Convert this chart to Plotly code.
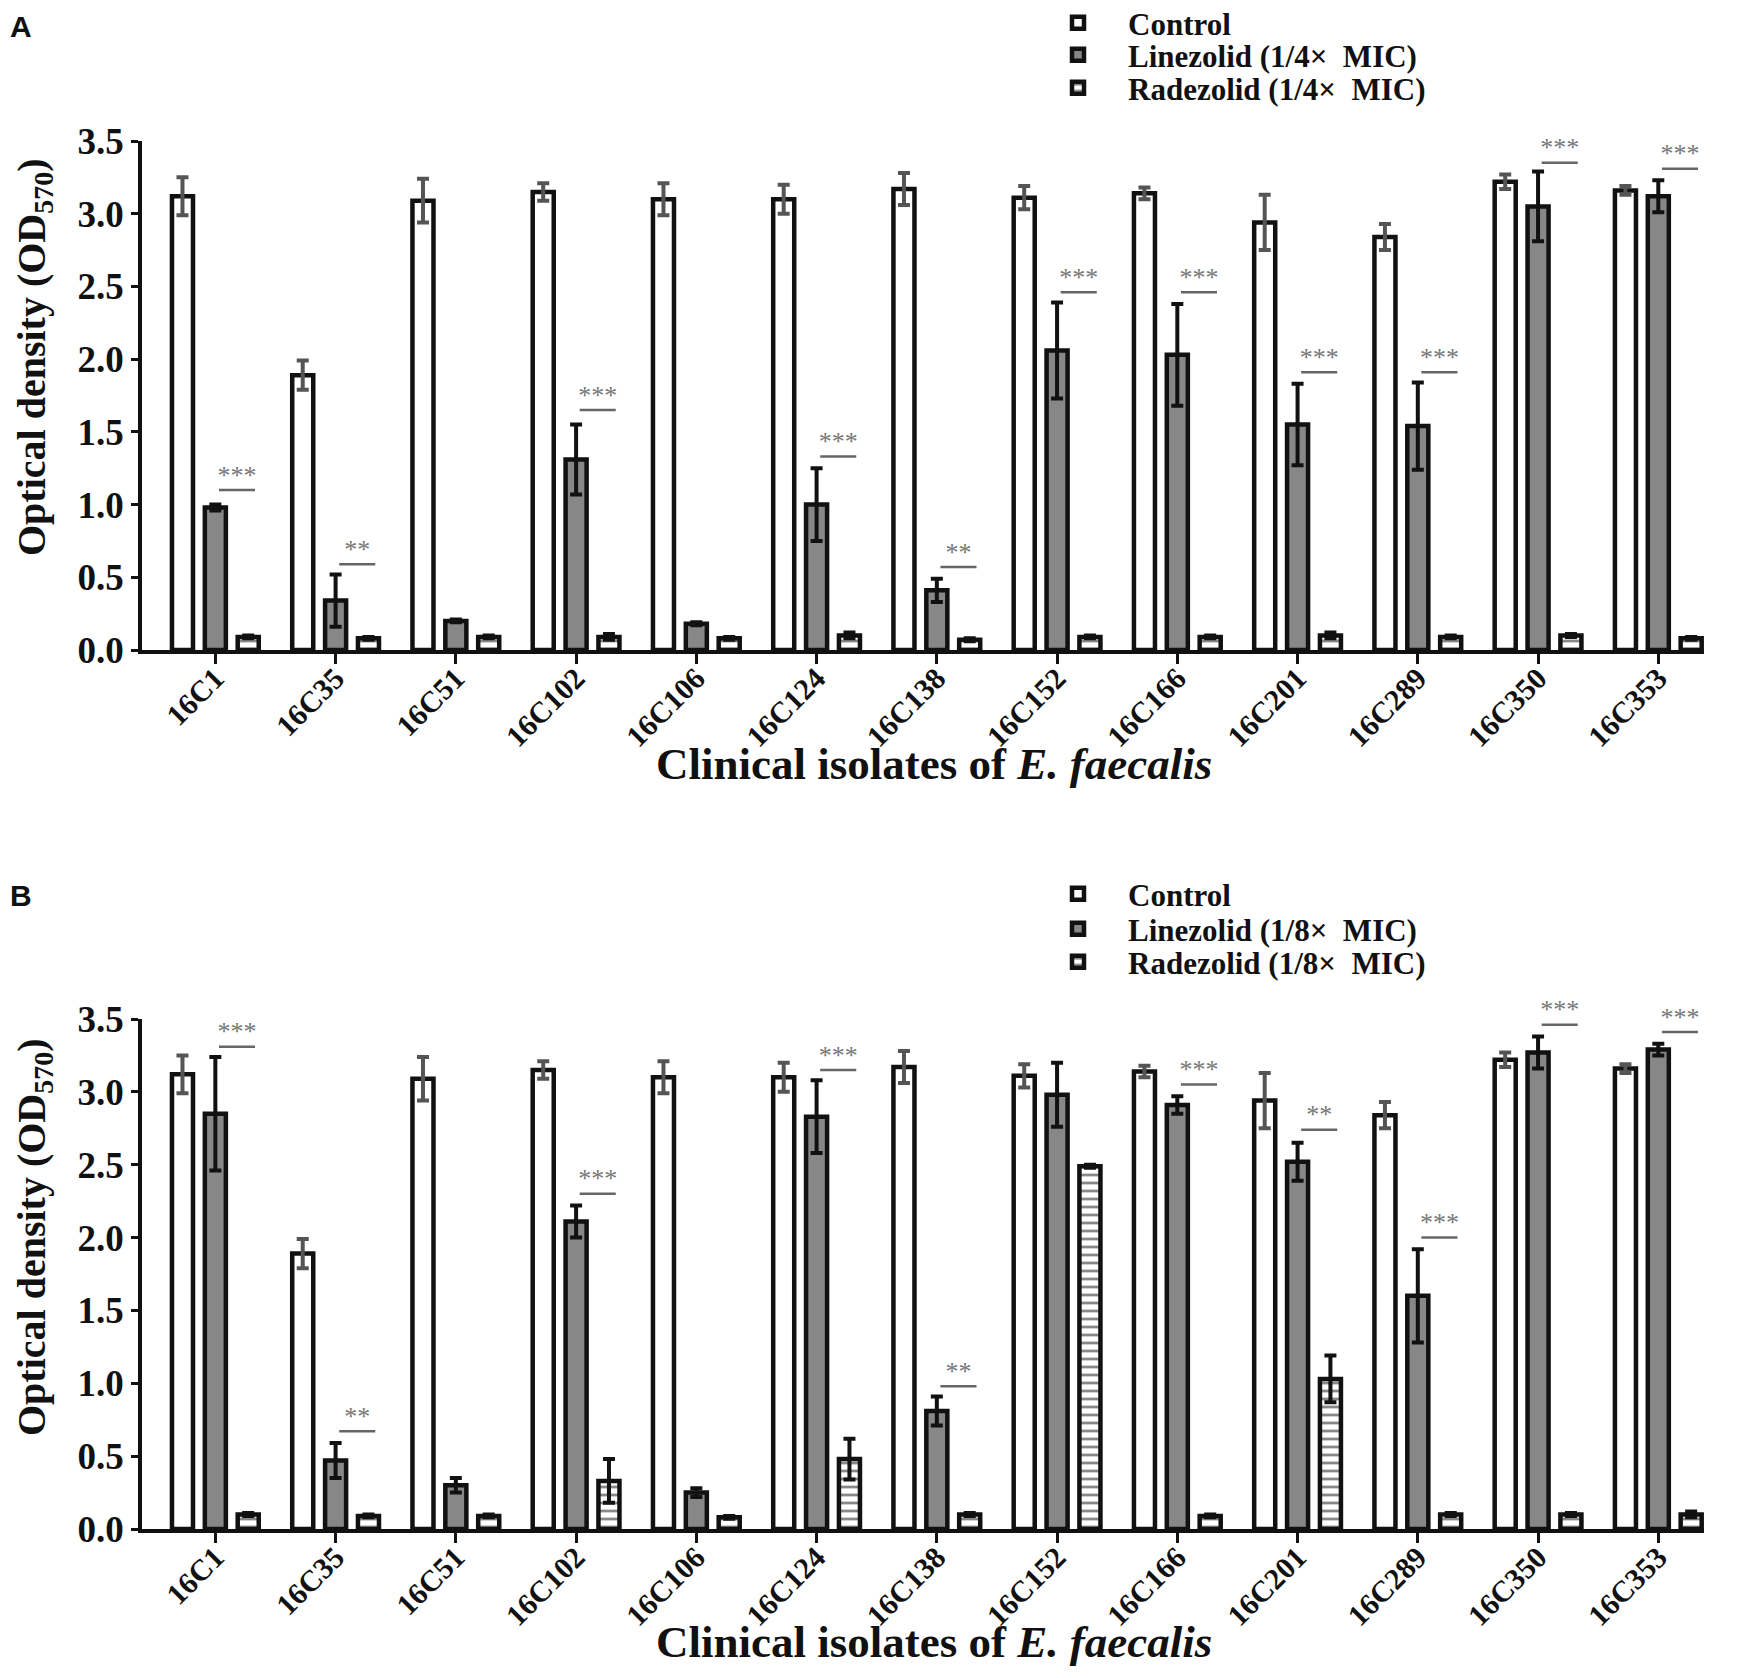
import plotly.graph_objects as go

isolates = ['16C1', '16C35', '16C51', '16C102', '16C106', '16C124', '16C138',
            '16C152', '16C166', '16C201', '16C289', '16C350', '16C353']

# control is the same in both panels
control = [3.12, 1.89, 3.09, 3.15, 3.10, 3.10, 3.17, 3.11, 3.14, 2.94, 2.84, 3.22, 3.16]
control_err = [0.13, 0.10, 0.15, 0.06, 0.11, 0.10, 0.11, 0.08, 0.04, 0.19, 0.09, 0.05, 0.03]

# panel A, 1/4x MIC
lzd_a = [0.98, 0.34, 0.20, 1.31, 0.18, 1.00, 0.41, 2.06, 2.03, 1.55, 1.54, 3.05, 3.12]
lzd_a_err = [0.02, 0.18, 0.01, 0.24, 0.01, 0.25, 0.08, 0.33, 0.35, 0.28, 0.30, 0.24, 0.11]
rzd_a = [0.09, 0.08, 0.09, 0.09, 0.08, 0.10, 0.07, 0.09, 0.09, 0.10, 0.09, 0.10, 0.08]
rzd_a_err = [0.01, 0.01, 0.01, 0.02, 0.01, 0.02, 0.01, 0.01, 0.01, 0.02, 0.01, 0.01, 0.01]

# panel B, 1/8x MIC
lzd_b = [2.85, 0.47, 0.30, 2.11, 0.25, 2.83, 0.81, 2.98, 2.91, 2.52, 1.60, 3.27, 3.29]
lzd_b_err = [0.39, 0.12, 0.05, 0.11, 0.03, 0.25, 0.10, 0.22, 0.06, 0.13, 0.32, 0.11, 0.04]
rzd_b = [0.10, 0.09, 0.09, 0.33, 0.08, 0.48, 0.10, 2.49, 0.09, 1.03, 0.10, 0.10, 0.10]
rzd_b_err = [0.01, 0.01, 0.01, 0.15, 0.01, 0.14, 0.01, 0.01, 0.01, 0.16, 0.01, 0.01, 0.02]

# significance marks (isolate index, bar level, label)
sig_a_idx = [0, 1, 3, 5, 6, 7, 8, 9, 10, 11, 12]
sig_a_lvl = [1.10, 0.59, 1.65, 1.33, 0.57, 2.46, 2.46, 1.91, 1.91, 3.35, 3.31]
sig_a_txt = ['***', '**', '***', '***', '**', '***', '***', '***', '***', '***', '***']
sig_b_idx = [0, 1, 3, 5, 6, 8, 9, 10, 11, 12]
sig_b_lvl = [3.31, 0.67, 2.30, 3.15, 0.98, 3.05, 2.74, 2.00, 3.46, 3.41]
sig_b_txt = ['***', '**', '***', '***', '**', '***', '**', '***', '***', '***']

xs = list(range(len(isolates)))
W, H = 1750, 1678
SERIF = 'Liberation Serif'

fig = go.Figure()


def add_panel(lzd, lzd_err, rzd, rzd_err, dose, xa, ya, legs):
    fig.add_trace(go.Bar(
        x=xs, y=control, name='Control', xaxis=xa, yaxis=ya, legend=legs[0],
        marker=dict(color='white', line=dict(color='#111111', width=4.5)),
        error_y=dict(type='data', array=control_err, color='#555555', thickness=4, width=6)))
    fig.add_trace(go.Bar(
        x=xs, y=lzd, name='Linezolid (' + dose + '×  MIC)', xaxis=xa, yaxis=ya, legend=legs[1],
        marker=dict(color='#878787', line=dict(color='#111111', width=4.5)),
        error_y=dict(type='data', array=lzd_err, color='#111111', thickness=4, width=6)))
    fig.add_trace(go.Bar(
        x=xs, y=rzd, name='Radezolid (' + dose + '×  MIC)', xaxis=xa, yaxis=ya, legend=legs[2],
        marker=dict(color='white', line=dict(color='#111111', width=4.5),
                    pattern=dict(shape='-', fgcolor='#111111', bgcolor='white',
                                 size=8, solidity=0.35)),
        error_y=dict(type='data', array=rzd_err, color='#111111', thickness=4, width=6)))


def add_sig(idx, lvl, txt, xa, ya):
    lx, ly = [], []
    for i, v in zip(idx, lvl):
        lx += [i + 0.03, i + 0.33, None]
        ly += [v, v, None]
    fig.add_trace(go.Scatter(x=lx, y=ly, mode='lines', xaxis=xa, yaxis=ya,
                             line=dict(color='#666666', width=2.5),
                             showlegend=False, cliponaxis=False, hoverinfo='skip'))
    fig.add_trace(go.Scatter(x=[i + 0.18 for i in idx], y=lvl, text=txt, mode='text',
                             textposition='top center', xaxis=xa, yaxis=ya,
                             textfont=dict(family=SERIF, size=26, color='#777777'),
                             showlegend=False, cliponaxis=False, hoverinfo='skip'))


add_panel(lzd_a, lzd_a_err, rzd_a, rzd_a_err, '1/4', 'x', 'y', ['legend', 'legend2', 'legend3'])
add_sig(sig_a_idx, sig_a_lvl, sig_a_txt, 'x', 'y')
add_panel(lzd_b, lzd_b_err, rzd_b, rzd_b_err, '1/8', 'x2', 'y2', ['legend4', 'legend5', 'legend6'])
add_sig(sig_b_idx, sig_b_lvl, sig_b_txt, 'x2', 'y2')

xaxis_style = dict(
    domain=[134 / W, 1696 / W], range=[-0.61, 12.38], tickmode='array', tickvals=xs,
    ticktext=isolates, tickangle=-45, ticks='outside', ticklen=10, tickwidth=3,
    tickcolor='#111111', ticklabelstandoff=-15,
    showline=True, linecolor='#111111', linewidth=3.5, showgrid=False, zeroline=False,
    automargin=False,
    tickfont=dict(family=SERIF, size=30, color='#111111', weight='bold'))
yaxis_style = dict(
    range=[0, 3.5], tickvals=[0, 0.5, 1.0, 1.5, 2.0, 2.5, 3.0, 3.5], tickformat='.1f',
    ticks='outside', ticklen=7, tickwidth=3, tickcolor='#111111',
    showline=True, linecolor='#111111', linewidth=3.5, showgrid=False, zeroline=False,
    automargin=False,
    tickfont=dict(family=SERIF, size=37, color='#111111', weight='bold'))

legend_style = dict(
    font=dict(family=SERIF, size=31, color='#111111', weight='bold'),
    bgcolor='rgba(0,0,0,0)', itemwidth=90, xanchor='left', yanchor='middle', x=1020 / W)

# one legend per row so the row spacing can follow the original
legend_rows = {'legend': 15, 'legend2': 47, 'legend3': 80,
               'legend4': 886, 'legend5': 921, 'legend6': 954}

fig.update_layout(
    width=W, height=H, margin=dict(l=0, r=0, t=0, b=0, autoexpand=False),
    paper_bgcolor='white', plot_bgcolor='white',
    barmode='group', bargap=0.18, bargroupgap=0.36,
    xaxis=dict(xaxis_style, anchor='y'),
    yaxis=dict(yaxis_style, domain=[1 - 642 / H, 1 - 133 / H], anchor='x'),
    xaxis2=dict(xaxis_style, anchor='y2'),
    yaxis2=dict(yaxis_style, domain=[1 - 1521 / H, 1 - 1011 / H], anchor='x2'),
)
for name, row_y in legend_rows.items():
    fig.update_layout({name: dict(legend_style, y=1 - row_y / H)})

# axis titles and panel letters
ytitle_font = dict(family=SERIF, size=40, color='#111111', weight='bold')
xtitle_font = dict(family=SERIF, size=45, color='#111111', weight='bold')
for ytitle_y, xtitle_y, letter, letter_y in [(349, 756, 'A', 0), (1229, 1634, 'B', 869)]:
    fig.add_annotation(text='Optical density (OD<sub>570</sub>)', xref='paper', yref='paper',
                       x=26 / W, y=1 - ytitle_y / H, textangle=-90, showarrow=False,
                       xanchor='center', yanchor='middle', font=ytitle_font)
    fig.add_annotation(text='Clinical isolates of <i>E. faecalis</i>', xref='paper', yref='paper',
                       x=926 / W, y=1 - xtitle_y / H, showarrow=False,
                       xanchor='center', yanchor='middle', font=xtitle_font)
    fig.add_annotation(text=letter, xref='paper', yref='paper', x=0, y=1 - letter_y / H,
                       showarrow=False, xanchor='left', yanchor='top',
                       font=dict(family='Liberation Sans', size=30, color='#111111', weight='bold'))

fig.write_html('out.html')
